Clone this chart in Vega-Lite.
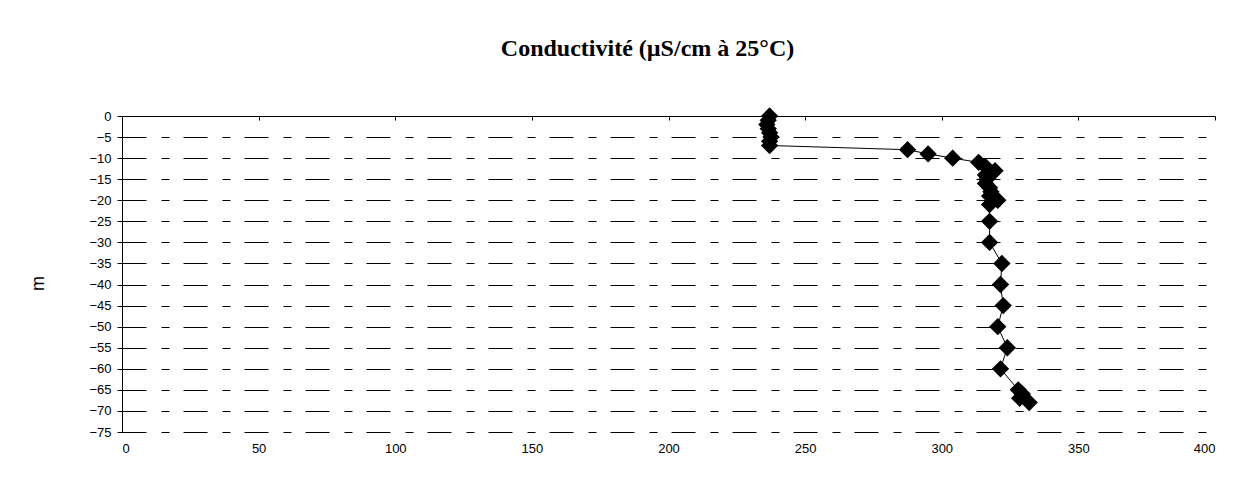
{
  "$schema": "https://vega.github.io/schema/vega-lite/v6.json",
  "width": 1093,
  "height": 316,
  "autosize": {"type": "none"},
  "padding": {"left": 122, "top": 116, "right": 38, "bottom": 68},
  "background": "white",
  "title": {
    "text": "Conductivité (µS/cm à 25°C)",
    "font": "Liberation Serif",
    "fontSize": 24,
    "fontWeight": "bold",
    "color": "black",
    "anchor": "middle",
    "frame": "group",
    "dx": -21,
    "offset": 46
  },
  "config": {
    "view": {"stroke": null},
    "axis": {
      "labelFont": "Liberation Sans",
      "labelFontSize": 13,
      "labelColor": "black",
      "titleFont": "Liberation Sans",
      "titleColor": "black",
      "domainColor": "black",
      "tickColor": "black"
    }
  },
  "data": {
    "values": [
      {"v": 237, "d": 0},
      {"v": 236.5, "d": -1},
      {"v": 236, "d": -2},
      {"v": 236.5, "d": -3},
      {"v": 237, "d": -4},
      {"v": 237.5, "d": -5},
      {"v": 237, "d": -6},
      {"v": 237, "d": -7},
      {"v": 287.5, "d": -8},
      {"v": 295, "d": -9},
      {"v": 304, "d": -10},
      {"v": 313.5, "d": -11},
      {"v": 316, "d": -12},
      {"v": 319.5, "d": -13},
      {"v": 316, "d": -14},
      {"v": 316.5, "d": -15},
      {"v": 316, "d": -16},
      {"v": 317.5, "d": -17},
      {"v": 318, "d": -18},
      {"v": 317.5, "d": -19},
      {"v": 320.5, "d": -20},
      {"v": 317.5, "d": -21},
      {"v": 317.5, "d": -25},
      {"v": 317.5, "d": -30},
      {"v": 322, "d": -35},
      {"v": 321.5, "d": -40},
      {"v": 322.5, "d": -45},
      {"v": 320.5, "d": -50},
      {"v": 324, "d": -55},
      {"v": 321.5, "d": -60},
      {"v": 328, "d": -65},
      {"v": 329.5, "d": -66},
      {"v": 328.5, "d": -67},
      {"v": 332, "d": -68}
    ]
  },
  "layer": [
    {
      "mark": {"type": "line", "color": "black", "strokeWidth": 1},
      "encoding": {
        "x": {
          "field": "v",
          "type": "quantitative",
          "scale": {"domain": [0, 400], "nice": false, "zero": false},
          "axis": {
            "orient": "top",
            "title": null,
            "labels": false,
            "grid": false,
            "domain": true,
            "ticks": true,
            "tickSize": -4,
            "tickCount": 20,
            "values": [0, 50, 100, 150, 200, 250, 300, 350, 400]
          }
        },
        "y": {
          "field": "d",
          "type": "quantitative",
          "scale": {"domain": [-75, 0], "nice": false, "zero": false},
          "axis": {
            "title": "m",
            "titleFontSize": 18,
            "titleFontWeight": "normal",
            "titleX": -84,
            "titleY": 167,
            "titleBaseline": "middle",
            "values": [-75, -70, -65, -60, -55, -50, -45, -40, -35, -30, -25, -20, -15, -10, -5, 0],
            "tickCount": 40,
            "labelOverlap": false,
            "tickSize": 5,
            "labelPadding": 6,
            "grid": true,
            "gridColor": "black",
            "gridWidth": 1,
            "gridDash": [24, 15, 8, 14],
            "gridOpacity": 1
          }
        },
        "order": {"field": "d", "sort": "descending"}
      }
    },
    {
      "mark": {"type": "point", "shape": "diamond", "filled": true, "color": "black", "size": 300, "opacity": 1},
      "encoding": {
        "x": {
          "field": "v",
          "type": "quantitative",
          "axis": {
            "orient": "bottom",
            "title": null,
            "domain": false,
            "ticks": false,
            "grid": false,
            "labelPadding": 10,
            "tickCount": 20,
            "labelOverlap": false,
            "values": [0, 50, 100, 150, 200, 250, 300, 350, 400]
          }
        },
        "y": {"field": "d", "type": "quantitative"}
      }
    }
  ],
  "resolve": {"axis": {"x": "independent"}}
}
